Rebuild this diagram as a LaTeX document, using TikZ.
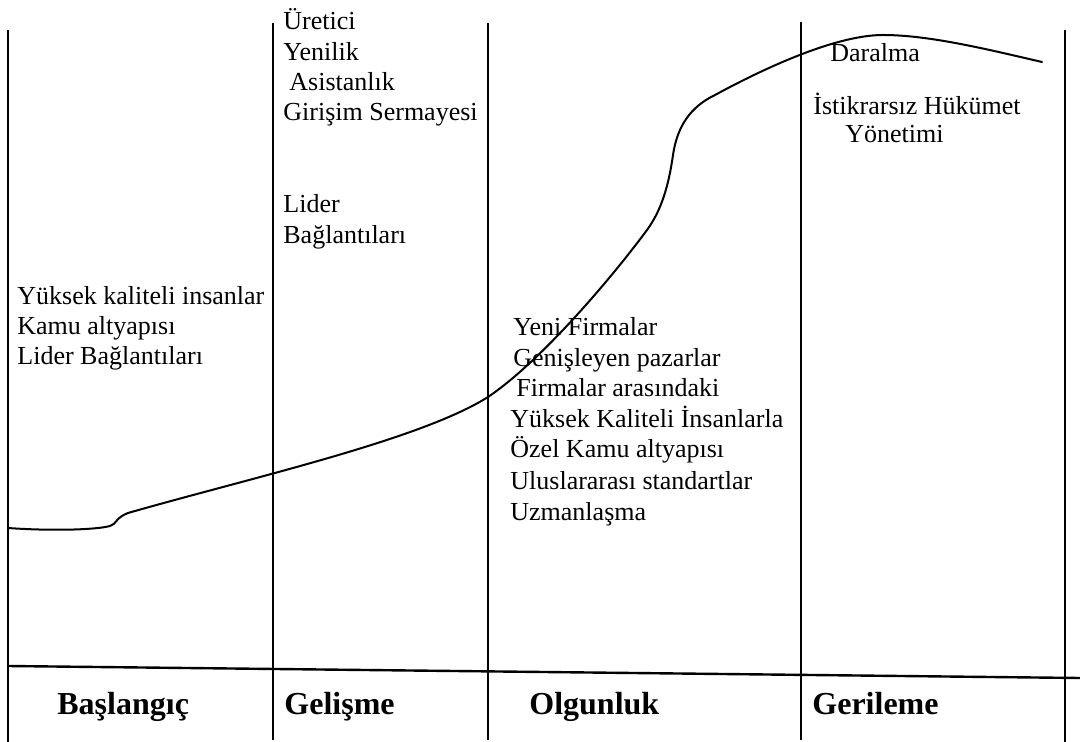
\documentclass[tikz,border=0pt]{standalone}
\usepackage{fontspec}
\setmainfont{Liberation Serif}
\usepackage{tikz}
\usetikzlibrary{positioning}

\begin{document}
\begin{tikzpicture}[
  x=0.5pt, y=-0.5pt,
  sepline/.style={draw=black, line width=1pt},
  baseline/.style={draw=black, line width=1.2pt},
  growth/.style={draw=black, line width=1pt, line join=round, line cap=round},
  item/.style={anchor=base west, inner sep=0pt, font=\fontsize{13}{15}\selectfont},
  stage/.style={anchor=base west, inner sep=0pt, font=\fontsize{16}{19}\selectfont\bfseries},
]

\useasboundingbox (0,0) rectangle (1080,742);

% column separators (x / top / bottom)
\foreach \x/\t/\b in {8/30/742, 273/23/740, 488/23/740, 801/22/740, 1065/30/742} {
  \draw[sepline] (\x,\t) -- (\x,\b);
}

% line above the stage names (slightly tilted)
\draw[baseline] (8,666) -- (1080,678);

% growth curve: flat start, small hook, slow rise, steep S, peak, decline
\draw[growth] (8,528) .. controls (50,531) and (95,530) .. (110,526)
  .. controls (117,524) and (115,518) .. (128,513)
  .. controls (250,478) and (420,440) .. (488,397)
  .. controls (540,362) and (610,280) .. (647,230)
  .. controls (660,212) and (668,190) .. (673,155)
  .. controls (677,127) and (690,107) .. (715,95)
  .. controls (748,77) and (830,35) .. (883,35)
  .. controls (930,35) and (990,50) .. (1042,62);

% stage 1 factors
\foreach \i/\x/\y/\txt in {1/17/305/Yüksek kaliteli insanlar,
                          2/17/335/Kamu altyapısı,
                          3/17/365/Lider Bağlantıları} {
  \node[item] (bas\i) at (\x,\y) {\txt};
}

% stage 2 factors
\foreach \i/\x/\y/\txt in {1/283/30/Üretici,
                          2/283/61/Yenilik,
                          3/289/91/Asistanlık,
                          4/283/121/Girişim Sermayesi,
                          5/283/213/Lider,
                          6/283/244/Bağlantıları} {
  \node[item] (gel\i) at (\x,\y) {\txt};
}

% stage 3 factors
\foreach \i/\x/\y/\txt in {1/513/336/Yeni Firmalar,
                          2/513/367/Genişleyen pazarlar,
                          3/516/397/Firmalar arasındaki,
                          4/510/428/Yüksek Kaliteli İnsanlarla,
                          5/510/458/Özel Kamu altyapısı,
                          6/510/489/Uluslararası standartlar,
                          7/510/520/Uzmanlaşma} {
  \node[item] (olg\i) at (\x,\y) {\txt};
}

% stage 4 factors
\foreach \i/\x/\y/\txt in {1/830/62/Daralma,
                          2/813/115/İstikrarsız Hükümet,
                          3/845/143/Yönetimi} {
  \node[item] (ger\i) at (\x,\y) {\txt};
}

% stage names
\foreach \name/\x/\txt in {s1/57/Başlangıç, s2/284/Gelişme, s3/529/Olgunluk, s4/812/Gerileme} {
  \node[stage] (\name) at (\x,714) {\txt};
}

\end{tikzpicture}
\end{document}
